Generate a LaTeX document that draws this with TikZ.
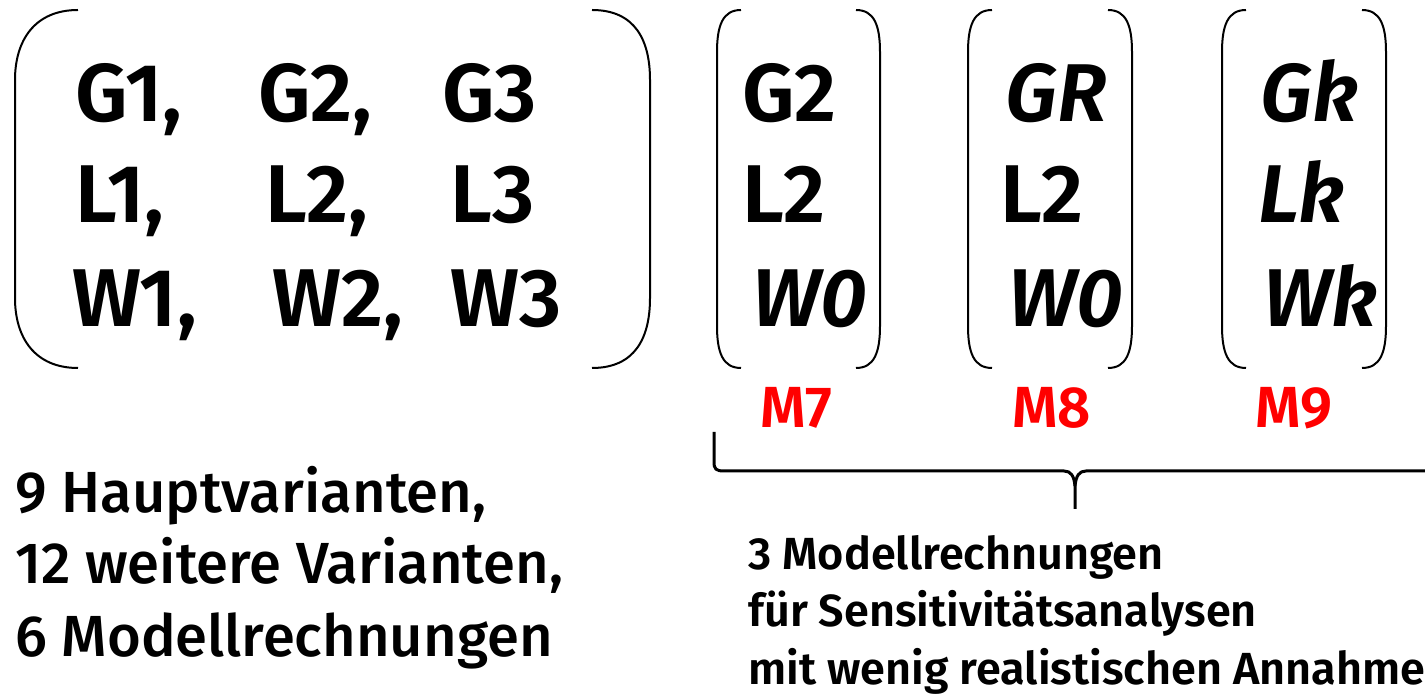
\documentclass[tikz,border=0pt]{standalone}
\usepackage{fontspec}
\setmainfont{Fira Sans}
\newfontfamily\firasb{Fira Sans SemiBold}[ItalicFont={Fira Sans SemiBold Italic}]
\newfontfamily\firamd{Fira Sans Medium}
\begin{document}
\begin{tikzpicture}[x=0.5pt,y=-0.5pt,
  mtx/.style={anchor=base west,inner sep=0pt,font=\fontsize{41}{44}\firasb},
  mtxi/.style={mtx,font=\fontsize{41}{44}\firasb\itshape},
  mlabel/.style={anchor=base west,inner sep=0pt,text=red,font=\fontsize{29}{31}\firasb},
  leftnote/.style={anchor=base west,inner sep=0pt,font=\fontsize{29}{31}\firamd},
  rightnote/.style={anchor=base west,inner sep=0pt,font=\fontsize{22.5}{25}\firasb},
  paren/.style={line width=1pt},
  bracepath/.style={line width=1.5pt}]
\useasboundingbox (0,0) rectangle (1425,694);
% big matrix
\node[mtx] (g1) at (75,122) {G1,};
\node[mtx] (g2) at (258,122) {G2,};
\node[mtx] (g3) at (442,122) {G3};
\node[mtx] (l1) at (75,223) {L1,};
\node[mtx] (l2) at (265,223) {L2,};
\node[mtx] (l3) at (450,223) {L3};
\node[mtx] (w1) at (72,327) {W1,};
\node[mtx] (w2) at (272,327) {W2,};
\node[mtx] (w3) at (450,327) {W3};
\draw[paren] (78,10) .. controls (35,10) and (15,40) .. (15,80) -- (15,298) .. controls (15,338) and (35,368) .. (78,368);
\draw[paren] (592,10) .. controls (635,10) and (650,40) .. (650,80) -- (650,298) .. controls (650,338) and (635,368) .. (592,368);
% M7
\node[mtx] (a1) at (742,122) {G2};
\node[mtx] (a2) at (742,223) {L2};
\node[mtxi] (a3) at (752,327) {W0};
% M8
\node[mtxi] (b1) at (1005,122) {GR};
\node[mtx] (b2) at (1000,223) {L2};
\node[mtxi] (b3) at (1008,327) {W0};
% M9
\node[mtxi] (c1) at (1260,122) {Gk};
\node[mtxi] (c2) at (1258,223) {Lk};
\node[mtxi] (c3) at (1263,327) {Wk};
\foreach \l/\r in {717/880, 968/1132, 1222/1386}{
  \draw[paren] (\l+24,10) .. controls (\l+6,10) and (\l,25) .. (\l,52) -- (\l,326) .. controls (\l,353) and (\l+6,368) .. (\l+24,368);
  \draw[paren] (\r-24,10) .. controls (\r-6,10) and (\r,25) .. (\r,52) -- (\r,326) .. controls (\r,353) and (\r-6,368) .. (\r-24,368);
}
\node[mlabel] (m7) at (760,428) {M7};
\node[mlabel] (m8) at (1012,428) {M8};
\node[mlabel] (m9) at (1255,428) {M9};
% brace
\draw[bracepath] (714,432) -- (714,462) .. controls (714,469) and (716,471) .. (724,471) -- (1064,471) .. controls (1071,471) and (1074,476) .. (1075,486) -- (1075,509);
\draw[bracepath] (1075,486) .. controls (1076,476) and (1079,471) .. (1086,471) -- (1440,471);
% notes
\node[leftnote] (n1) at (15,513) {9 Hauptvarianten,};
\node[leftnote] (n2) at (15,584) {12 weitere Varianten,};
\node[leftnote] (n3) at (15,657) {6 Modellrechnungen};
\node[rightnote] (r1) at (748,570) {3 Modellrechnungen};
\node[rightnote] (r2) at (748,627) {f\"ur Sensitivit\"atsanalysen};
\node[rightnote] (r3) at (748,685) {mit wenig realistischen Annahmen};
\end{tikzpicture}
\end{document}
